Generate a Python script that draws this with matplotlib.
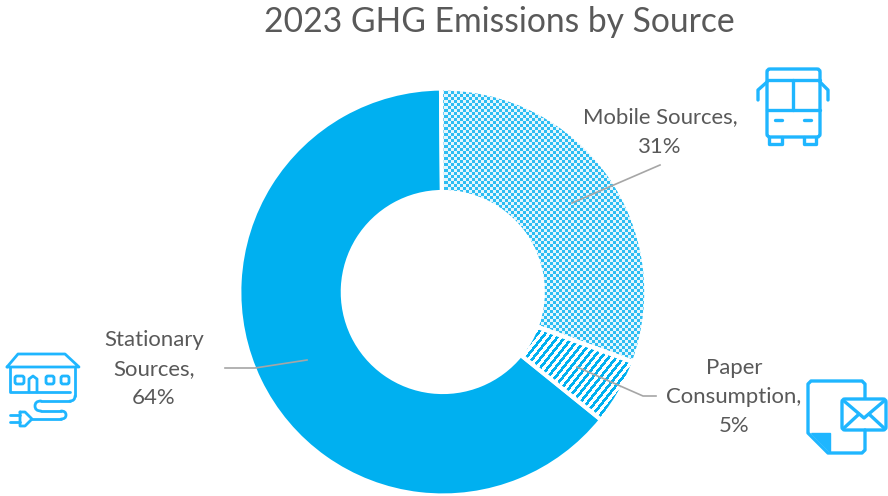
import matplotlib
matplotlib.use("Agg")
import matplotlib.pyplot as plt
import numpy as np
from matplotlib.patches import FancyBboxPatch, PathPatch, Polygon
from matplotlib.path import Path

plt.rcParams['font.family'] = ['Lato', 'DejaVu Sans']

W, H = 888, 496
BLUE = '#00b0f0'
ICON = '#1fb6ff'
TEXT = '#595959'
GREY = '#a6a6a6'

title = '2023 GHG Emissions by Source'
sources = ['Mobile Sources', 'Paper Consumption', 'Stationary Sources']
shares = [30.75, 5.2, 64.05]
label_texts = ['Mobile Sources,\n31%', 'Paper\nConsumption,\n5%', 'Stationary\nSources,\n64%']
label_pos = [(660, 132), (734, 397), (154, 369)]
leaders = [
    [(572, 203), (660, 165)],
    [(577, 367), (643, 396), (656, 396)],
    [(225, 368), (255, 368), (307, 360)],
]

fig = plt.figure(figsize=(W / 100, H / 100), dpi=100)
ax = fig.add_axes([0, 0, 1, 1])


def flip(pts):
    # picture coordinates (y down) to axes coordinates
    return [(x, H - y) for x, y in pts]


wedges, _ = ax.pie(shares, center=(442.8, H - 292), radius=203.5, startangle=90.5,
                   counterclock=False, colors=[BLUE] * 3,
                   wedgeprops=dict(width=103.5, edgecolor='white', linewidth=3))

# dotted and striped fills, clipped to their wedges
yy, xx = np.mgrid[0:H, 0:W]
checker = (xx // 3 + yy // 3) % 2 == 0
stripes = ((xx - yy * 0.8) % 7.5) < 3.6
fills = ((wedges[0], checker, '#2dbdf2', '#e4f6fd'), (wedges[1], stripes, BLUE, '#ffffff'))
for wedge, pattern, on, off in fills:
    rgba = np.ones((H, W, 4))
    rgba[:, :, :3] = matplotlib.colors.to_rgb(off)
    rgba[pattern, :3] = matplotlib.colors.to_rgb(on)
    im = ax.imshow(rgba, extent=(0, W, 0, H), origin='lower', interpolation='nearest',
                   aspect='auto', zorder=wedge.get_zorder() + 0.5)
    im.set_clip_path(wedge)
    wedge.set_facecolor('none')
    wedge.set_zorder(im.get_zorder() + 0.1)

ax.set_xlim(0, W)
ax.set_ylim(0, H)
ax.set_aspect('equal')
ax.axis('off')

for pts in leaders:
    p = flip(pts)
    ax.plot([a for a, b in p], [b for a, b in p], color=GREY, lw=1.2, zorder=6)

ax.text(499, H - 22.5, title, ha='center', va='center', fontsize=24.2, color=TEXT)
for txt, (x, y) in zip(label_texts, label_pos):
    ax.text(x, H - y, txt, ha='center', va='center', fontsize=15.9, color=TEXT,
            linespacing=1.57, zorder=7)


def line(pts, lw=2.4):
    p = flip(pts)
    ax.plot([a for a, b in p], [b for a, b in p], color=ICON, lw=lw,
            solid_capstyle='round', solid_joinstyle='round', zorder=8)


def box(x0, y0, x1, y1, r=2, lw=2.4, fc='none'):
    ax.add_patch(FancyBboxPatch((x0, H - y1), x1 - x0, y1 - y0,
                                boxstyle=f'round,pad=0,rounding_size={r}',
                                fc=fc, ec=ICON, lw=lw, zorder=8))


def curve(pts, lw=2.2):
    # first point, then pairs of control point and end point
    codes = [Path.MOVETO] + [Path.CURVE3] * (len(pts) - 1)
    ax.add_patch(PathPatch(Path(flip(pts), codes), fc='none', ec=ICON, lw=lw,
                           capstyle='round', zorder=8))


# bus icon
box(767, 69, 820, 137, r=3)
line([(767, 80), (820, 80)])
line([(767, 110), (820, 110)])
line([(793, 80), (793, 110)])
line([(775, 120), (782, 120)])
line([(804, 120), (811, 120)])
line([(769, 137), (769, 144), (782, 144), (782, 137)])
line([(804, 137), (804, 144), (816, 144), (816, 137)])
line([(767, 82), (758, 90), (758, 100)])
line([(820, 82), (828, 90), (828, 100)])

# house with plug
line([(7, 367), (18, 354), (65, 354), (79, 367), (7, 367)], lw=2.0)
line([(10, 367), (10, 392), (70, 392)], lw=2.0)
line([(75, 368), (75, 396)], lw=2.0)
curve([(75, 396), (75, 401), (70, 401)], lw=2.0)
line([(70, 401), (41, 401)], lw=2.0)
curve([(41, 401), (35, 401), (35, 406), (35, 411), (41, 411)], lw=2.0)
line([(41, 411), (61, 411)], lw=2.0)
curve([(61, 411), (66, 411), (66, 415), (66, 419), (61, 419)], lw=2.0)
line([(61, 419), (32, 419)], lw=2.0)
box(15, 376, 24, 384, r=2, lw=2.0)
box(46, 376, 54, 384, r=2, lw=2.0)
box(61, 376, 69, 384, r=2, lw=2.0)
line([(29, 392), (29, 379), (33, 376), (37, 379), (37, 392)], lw=2.0)
line([(20, 412), (25, 412), (32, 419), (25, 426), (20, 426), (20, 412)], lw=2.0)
line([(10, 415), (20, 415)], lw=2.0)
line([(10, 422), (20, 422)], lw=2.0)

# paper and envelope
line([(865, 398), (865, 384), (862, 381), (811, 381), (808, 384), (808, 433),
      (828, 453), (862, 453), (865, 450), (865, 430)])
ax.add_patch(Polygon(flip([(811, 433), (830, 433), (830, 452)]), closed=True,
                     fc=ICON, ec=ICON, lw=1, zorder=8))
box(842, 399, 886, 430, r=3)
line([(844, 401), (864, 418), (884, 401)])
line([(844, 428), (858, 415)])
line([(884, 428), (870, 415)])

fig.savefig('out.png', dpi=100)
